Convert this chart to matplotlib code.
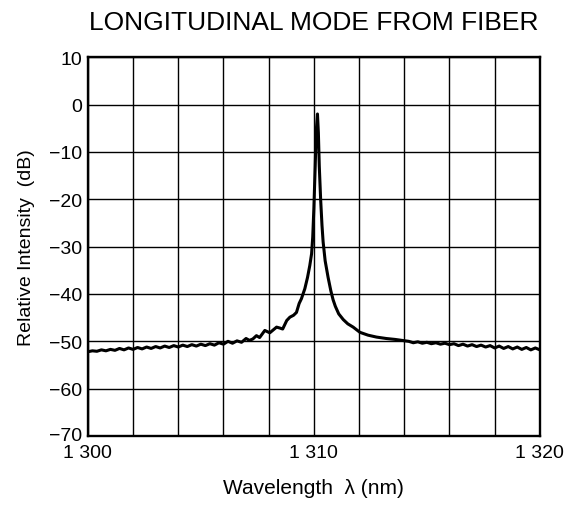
import numpy as np
import matplotlib.pyplot as plt
from matplotlib.transforms import ScaledTranslation

plt.rcParams['font.family'] = ['Liberation Sans', 'DejaVu Sans']

# spectrum (nm, dB)
wl = [1300.0, 1300.2, 1300.4, 1300.6, 1300.8, 1301.0, 1301.2, 1301.4, 1301.6, 1301.8,
      1302.0, 1302.2, 1302.4, 1302.6, 1302.8, 1303.0, 1303.2, 1303.4, 1303.6, 1303.8,
      1304.0, 1304.2, 1304.4, 1304.6, 1304.8, 1305.0, 1305.2, 1305.4, 1305.6, 1305.8,
      1306.0, 1306.2, 1306.4, 1306.6, 1306.8, 1307.0, 1307.15, 1307.3, 1307.46, 1307.6,
      1307.83, 1308.05, 1308.35, 1308.5, 1308.62, 1308.8, 1308.94, 1309.1, 1309.23, 1309.35,
      1309.45, 1309.6, 1309.72, 1309.82, 1309.9, 1309.95, 1310.0, 1310.06, 1310.1, 1310.16,
      1310.2, 1310.24, 1310.3, 1310.36, 1310.41, 1310.5, 1310.63, 1310.75, 1310.85, 1310.95,
      1311.1, 1311.3, 1311.5, 1311.74, 1312.04, 1312.4, 1312.77, 1313.2, 1313.6, 1313.9,
      1314.2, 1314.4, 1314.6, 1314.8, 1315.0, 1315.2, 1315.4, 1315.6, 1315.8, 1316.0,
      1316.2, 1316.4, 1316.6, 1316.8, 1317.0, 1317.2, 1317.4, 1317.6, 1317.8, 1318.0,
      1318.2, 1318.4, 1318.6, 1318.8, 1319.0, 1319.2, 1319.4, 1319.6, 1319.8, 1320.0]
db = [-52.2, -52.0, -52.1, -51.8, -52.0, -51.7, -51.9, -51.5, -51.8, -51.4,
      -51.7, -51.3, -51.6, -51.2, -51.5, -51.1, -51.4, -51.0, -51.3, -50.9,
      -51.2, -50.8, -51.1, -50.7, -51.0, -50.6, -50.9, -50.5, -50.8, -50.3,
      -50.6, -50.0, -50.4, -49.9, -50.2, -49.4, -49.8, -49.5, -48.8, -49.2,
      -47.7, -48.2, -47.0, -47.2, -47.4, -45.6, -44.9, -44.5, -43.9, -42.0,
      -41.0, -38.9, -36.5, -34.0, -31.5, -28.0, -22.0, -13.0, -6.0, -2.0,
      -6.0, -13.0, -20.0, -25.5, -29.0, -33.0, -36.5, -39.3, -41.2, -42.6,
      -44.2, -45.4, -46.3, -47.0, -48.1, -48.7, -49.1, -49.4, -49.6, -49.8,
      -50.0, -50.3, -50.1, -50.4, -50.2, -50.5, -50.3, -50.6, -50.4, -50.7,
      -50.5, -50.9, -50.6, -51.0, -50.7, -51.1, -50.8, -51.2, -50.9, -51.4,
      -51.0, -51.5, -51.1, -51.6, -51.2, -51.7, -51.3, -51.8, -51.4, -51.8]

xticks = [1300, 1310, 1320]
xlabels = ['1 300', '1 310', '1 320']
yticks = [10, 0, -10, -20, -30, -40, -50, -60, -70]

fig = plt.figure(figsize=(5.78, 5.10), dpi=100)
ax = fig.add_axes([0.152, 0.143, 0.782, 0.743])

ax.plot(wl, db, color='black', lw=2.2)

ax.set_xlim(1300, 1320)
ax.set_ylim(-70, 10)
ax.set_xticks(np.arange(1300, 1321, 2), minor=True)
ax.set_xticks(xticks)
ax.set_xticklabels(xlabels)
ax.set_yticks(yticks)
ax.set_yticklabels([str(v).replace('-', '\u2212') for v in yticks])
ax.grid(True, which='both', color='black', lw=1.0)
ax.tick_params(which='both', length=0, labelsize=14)
ax.tick_params(axis='x', pad=5.5)
ax.tick_params(axis='y', pad=4)
# lift the bottom y label a little, as in the original
lab = ax.get_yticklabels()[-1]
lab.set_transform(lab.get_transform() + ScaledTranslation(0, 3 / 100, fig.dpi_scale_trans))
for s in ax.spines.values():
    s.set_linewidth(1.7)

ax.set_xlabel('Wavelength  \u03bb (nm)', fontsize=15, labelpad=12.5)
ax.set_ylabel('Relative Intensity  (dB)', fontsize=14, labelpad=10)
ax.set_title('LONGITUDINAL MODE FROM FIBER', fontsize=19, pad=20.5)

fig.savefig('out.png', dpi=100)
